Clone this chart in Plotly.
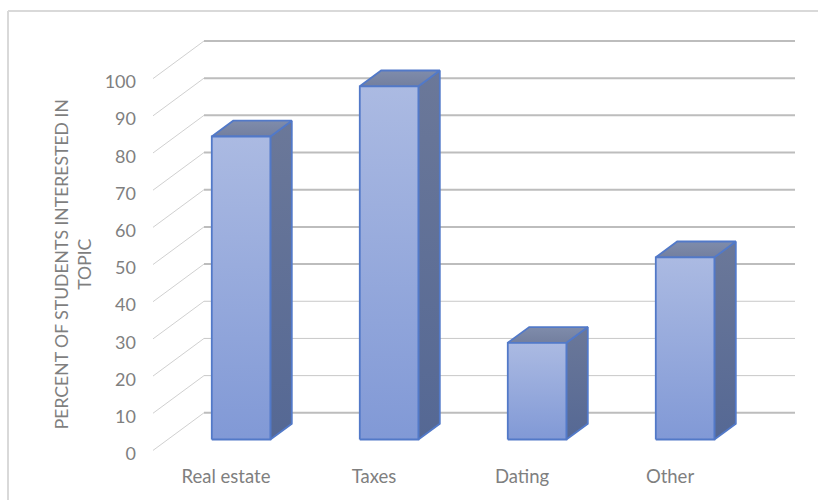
import plotly.graph_objects as go

# Survey results
categories = ["Real estate", "Taxes", "Dating", "Other"]
percent_interested = [81.5, 95, 26, 49]
tick_values = [0, 10, 20, 30, 40, 50, 60, 70, 80, 90, 100]

# Oblique projection of the chart's depth axis, in axis units per unit of depth
DEPTH_X = 51 / 148
DEPTH_Y = 37.6 / 3.715
BAR_LEFT = -0.196
BAR_RIGHT = 0.2
BAR_DEPTH_FRONT = 0.29
BAR_DEPTH_BACK = 0.71
LABEL_DROP = 0.9  # value labels sit slightly below their gridline start

# Plot area in page pixels, used for the annotation and the frame
PLOT_LEFT, PLOT_RIGHT, PLOT_TOP, PLOT_BOTTOM = 153, 795, 33.9, 455.6

TEXT = "#7f7f7f"
GRID = "#bdbdbd"
EDGE = "#5279c8"


def px(x):
    return (x - PLOT_LEFT) / (PLOT_RIGHT - PLOT_LEFT)


def py(y):
    return (PLOT_BOTTOM - y) / (PLOT_BOTTOM - PLOT_TOP)


def project(x, y, depth):
    return x + depth * DEPTH_X, y + depth * DEPTH_Y


def polygon(corners):
    pts = [project(*c) for c in corners]
    pts.append(pts[0])
    return [p[0] for p in pts], [p[1] for p in pts]


def face(corners, top_colour, bottom_colour):
    xs, ys = polygon(corners)
    return go.Scatter(
        x=xs, y=ys, mode="lines", fill="toself",
        fillgradient=dict(type="vertical",
                          colorscale=[[0, bottom_colour], [1, top_colour]]),
        line=dict(color=EDGE, width=1.8),
        hoverinfo="skip", showlegend=False, cliponaxis=False,
    )


fig = go.Figure()

# Floor-to-wall guides on the left and gridlines along the back wall
for v in tick_values:
    xs0, ys0 = project(-0.4932, v, 0)
    xs1, ys1 = project(-0.4932, v, 1)
    fig.add_trace(go.Scatter(x=[xs0, xs1], y=[ys0, ys1], mode="lines",
                             line=dict(color="#d0d0d0", width=1),
                             hoverinfo="skip", showlegend=False, cliponaxis=False))
    thick = v == 0 or v >= 40
    fig.add_trace(go.Scatter(x=[xs1, 3.5 + DEPTH_X], y=[ys1, ys1], mode="lines",
                             line=dict(color=GRID if thick else "#c8c8c8",
                                       width=2 if thick else 1),
                             hoverinfo="skip", showlegend=False, cliponaxis=False))

# Each column: side, top and front faces
for i, value in enumerate(percent_interested):
    left, right = i + BAR_LEFT, i + BAR_RIGHT
    f, b = BAR_DEPTH_FRONT, BAR_DEPTH_BACK
    fig.add_trace(face([(right, 0, f), (right, 0, b),
                        (right, value, b), (right, value, f)],
                       "#6b7899", "#556894"))
    fig.add_trace(face([(left, value, f), (right, value, f),
                        (right, value, b), (left, value, b)],
                       "#7f8cab", "#737f9f"))
    fig.add_trace(face([(left, 0, f), (right, 0, f),
                        (right, value, f), (left, value, f)],
                       "#abbae2", "#8199d6"))

fig.update_layout(
    width=818, height=500,
    margin=dict(l=PLOT_LEFT, r=818 - PLOT_RIGHT, t=PLOT_TOP, b=500 - PLOT_BOTTOM,
                autoexpand=False),
    paper_bgcolor="white", plot_bgcolor="rgba(0,0,0,0)",
    font=dict(family="Lato, 'Open Sans', sans-serif", color=TEXT),
    xaxis=dict(
        range=[-0.4932, 3.5 + DEPTH_X],
        tickmode="array", tickvals=list(range(len(categories))), ticktext=categories,
        showgrid=False, zeroline=False, showline=False, ticks="",
        tickfont=dict(size=18.5, color=TEXT), ticklabelstandoff=7,
    ),
    yaxis=dict(
        range=[-1.5, 112],
        tickmode="array",
        tickvals=[v - LABEL_DROP for v in tick_values],
        ticktext=[str(v) for v in tick_values],
        showgrid=False, zeroline=False, showline=False, ticks="",
        tickfont=dict(size=18, color=TEXT), ticklabelstandoff=16,
    ),
    annotations=[dict(
        text="PERCENT OF STUDENTS INTERESTED IN<br>TOPIC",
        xref="paper", yref="paper",
        x=px(73), y=py(264),
        xanchor="center", yanchor="middle", textangle=-90,
        showarrow=False, align="center",
        font=dict(size=17.6, color=TEXT),
    )],
    shapes=[
        dict(type="line", xref="paper", yref="paper",
             x0=px(8), x1=px(818), y0=py(11), y1=py(11),
             line=dict(color="#d9d9d9", width=2)),
        dict(type="line", xref="paper", yref="paper",
             x0=px(8), x1=px(8), y0=py(11), y1=py(500),
             line=dict(color="#d9d9d9", width=2)),
    ],
)

fig.write_html("out.html", config=dict(displayModeBar=False))
